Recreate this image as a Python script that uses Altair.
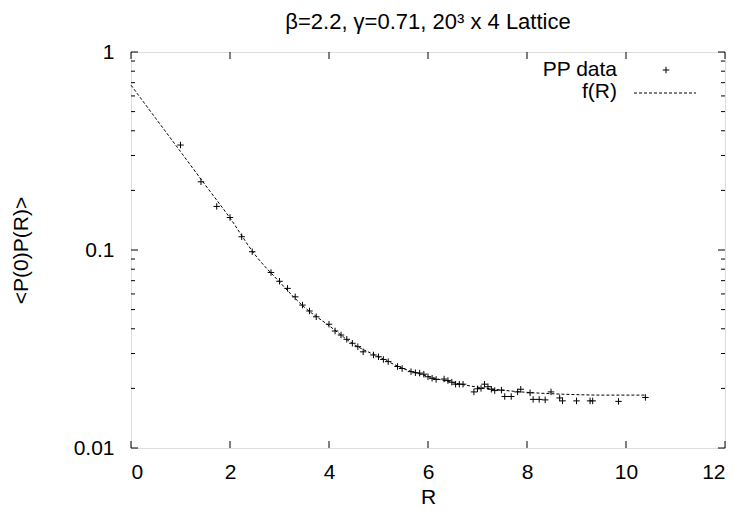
import altair as alt
import pandas as pd

# ---- data ----
R_data = [1.0, 1.414, 1.732, 2.0, 2.236, 2.449, 2.828, 3.0, 3.162, 3.317, 3.464, 3.606,
          3.742, 4.0, 4.123, 4.243, 4.359, 4.472, 4.583, 4.690, 4.899, 5.0, 5.099, 5.196,
          5.385, 5.477, 5.657, 5.745, 5.831, 5.916, 6.0, 6.083, 6.164, 6.325, 6.403, 6.481,
          6.557, 6.633, 6.708, 6.928, 7.0, 7.071, 7.141, 7.211, 7.280, 7.348, 7.483, 7.550,
          7.681, 7.810, 7.874, 8.062, 8.124, 8.246, 8.367, 8.485, 8.660, 8.718, 9.0, 9.274,
          9.327, 9.849, 10.392]
PP_data = [0.339, 0.221, 0.166, 0.146, 0.1167, 0.098, 0.077, 0.0695, 0.064, 0.058, 0.0527, 0.0492,
           0.046, 0.0422, 0.039, 0.0372, 0.0354, 0.0338, 0.0325, 0.0306, 0.0295, 0.0289, 0.028, 0.0273,
           0.0258, 0.0252, 0.0243, 0.0240, 0.0239, 0.0236, 0.0229, 0.0225, 0.0222, 0.0223, 0.0219, 0.0215,
           0.0210, 0.0210, 0.0210, 0.0192, 0.0199, 0.0200, 0.0210, 0.0204, 0.0198, 0.0195, 0.0196, 0.0182,
           0.0182, 0.0192, 0.0198, 0.0190, 0.0176, 0.0176, 0.0175, 0.0192, 0.0179, 0.0173, 0.0173, 0.0173,
           0.0173, 0.0172, 0.0180]

R_fit = [0, 0.5, 1, 1.5, 2, 2.5, 3, 3.5, 4, 4.5, 5, 5.5, 6, 6.5, 7, 7.5, 8, 8.5, 9, 9.5, 10, 10.4]
f_fit = [0.68, 0.462, 0.314, 0.213, 0.145, 0.095, 0.069, 0.0515, 0.0415, 0.0334, 0.0289, 0.0252,
         0.0230, 0.0214, 0.0203, 0.0196, 0.0191, 0.0188, 0.0186, 0.0185, 0.0185, 0.0185]

x_ticks = [0, 2, 4, 6, 8, 10, 12]
y_major = [0.01, 0.1, 1]
y_minor = [0.02, 0.03, 0.04, 0.05, 0.06, 0.07, 0.08, 0.09,
           0.2, 0.3, 0.4, 0.5, 0.6, 0.7, 0.8, 0.9]

legend_labels = ["PP data", "f(R)"]
title_text = "β=2.2, γ=0.71, 20³ x 4 Lattice"
x_title = "R"
y_title = "<P(0)P(R)>"

# ---- layout ----
W, H = 594, 396
FONT = "Liberation Sans"
FS = 21
MAJ, MIN = 7, 4

xs = alt.Scale(domain=[0, 12], nice=False, zero=False)
ys = alt.Scale(type="log", domain=[0.01, 1], nice=False)

df_pts = pd.DataFrame({"R": R_data, "P": PP_data})
df_fit = pd.DataFrame({"R": R_fit, "P": f_fit})

xaxis = alt.Axis(values=x_ticks, format="d", ticks=False, domain=False, grid=False,
                 labelFont=FONT, labelFontSize=FS, labelColor="black", labelPadding=13,
                 title=x_title, titleFont=FONT, titleFontSize=FS, titleFontWeight="normal",
                 titleColor="black", titlePadding=4)
yaxis = alt.Axis(values=y_major, format="~g", ticks=False, domain=False, grid=False,
                 labelFont=FONT, labelFontSize=FS, labelColor="black", labelPadding=17,
                 title=y_title, titleFont=FONT, titleFontSize=FS, titleFontWeight="normal",
                 titleColor="black", titlePadding=42)

fit = alt.Chart(df_fit).mark_line(color="black", strokeWidth=1, strokeDash=[3, 2],
                                  interpolate="monotone").encode(
    x=alt.X("R:Q", scale=xs, axis=xaxis),
    y=alt.Y("P:Q", scale=ys, axis=yaxis),
)

pts = alt.Chart(df_pts).mark_point(shape="M-1,0L1,0M0,-1L0,1", filled=False,
                                   stroke="black", strokeWidth=1, size=42, opacity=1).encode(
    x=alt.X("R:Q", scale=xs),
    y=alt.Y("P:Q", scale=ys),
)

# inward ticks (mirrored on all four sides)
df_xt = pd.DataFrame({"v": x_ticks})
df_ymaj = pd.DataFrame({"v": y_major})
df_ymin = pd.DataFrame({"v": y_minor})

xt_bot = alt.Chart(df_xt).mark_rule(color="black", strokeWidth=1).encode(
    x=alt.X("v:Q", scale=xs), y=alt.value(H), y2=alt.value(H - MAJ))
xt_top = alt.Chart(df_xt).mark_rule(color="black", strokeWidth=1).encode(
    x=alt.X("v:Q", scale=xs), y=alt.value(0), y2=alt.value(MAJ))
yt_l = alt.Chart(df_ymaj).mark_rule(color="black", strokeWidth=1).encode(
    y=alt.Y("v:Q", scale=ys), x=alt.value(0), x2=alt.value(MAJ))
yt_r = alt.Chart(df_ymaj).mark_rule(color="black", strokeWidth=1).encode(
    y=alt.Y("v:Q", scale=ys), x=alt.value(W), x2=alt.value(W - MAJ))
ym_l = alt.Chart(df_ymin).mark_rule(color="black", strokeWidth=1).encode(
    y=alt.Y("v:Q", scale=ys), x=alt.value(0), x2=alt.value(MIN))
ym_r = alt.Chart(df_ymin).mark_rule(color="black", strokeWidth=1).encode(
    y=alt.Y("v:Q", scale=ys), x=alt.value(W), x2=alt.value(W - MIN))

# legend (gnuplot style: label on the left, sample on the right)
df_leg1 = pd.DataFrame({"t": [legend_labels[0]]})
df_leg2 = pd.DataFrame({"t": [legend_labels[1]]})
leg_t1 = alt.Chart(df_leg1).mark_text(align="right", baseline="middle", font=FONT,
                                      fontSize=FS, color="black").encode(
    text="t:N", x=alt.value(486), y=alt.value(18))
leg_t2 = alt.Chart(df_leg2).mark_text(align="right", baseline="middle", font=FONT,
                                      fontSize=FS, color="black").encode(
    text="t:N", x=alt.value(486), y=alt.value(40))
leg_p = alt.Chart(df_leg1).mark_point(shape="M-1,0L1,0M0,-1L0,1", filled=False,
                                      stroke="black", strokeWidth=1, size=42, opacity=1).encode(
    x=alt.value(535), y=alt.value(18))
leg_l = alt.Chart(df_leg2).mark_rule(color="black", strokeWidth=1, strokeDash=[3, 2]).encode(
    x=alt.value(503), x2=alt.value(565), y=alt.value(41))

chart = alt.layer(
    fit, pts, xt_bot, xt_top, yt_l, yt_r, ym_l, ym_r, leg_t1, leg_t2, leg_p, leg_l
).properties(
    width=W, height=H,
    title=alt.TitleParams(title_text, font=FONT, fontSize=22, fontWeight="normal",
                          color="black", anchor="middle", offset=7),
    autosize=alt.AutoSizeParams(type="none"),
    padding={"left": 123, "top": 44, "right": 11, "bottom": 67},
).configure_view(stroke="black", strokeWidth=1).configure(background="white")

chart.save("out.html", embed_options={"renderer": "svg", "actions": False})
